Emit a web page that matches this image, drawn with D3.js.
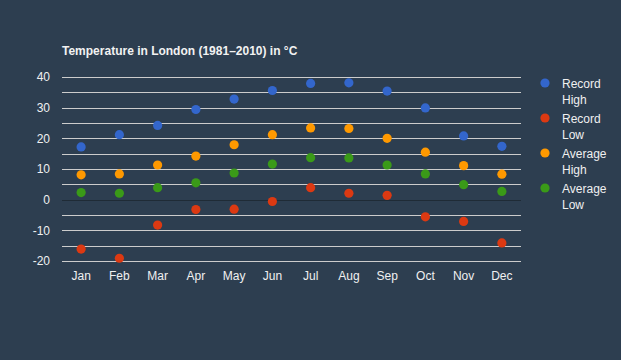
<!DOCTYPE html>
<html>
<head>
<meta charset="utf-8">
<script src="https://cdn.jsdelivr.net/npm/d3@7"></script>
<style>
  body { margin: 0; background: #2d3e50; }
  svg { display: block; font-family: Arial, "Liberation Sans", sans-serif; }
</style>
</head>
<body>
<svg width="621" height="360"></svg>
<script>
const months = ["Jan", "Feb", "Mar", "Apr", "May", "Jun", "Jul", "Aug", "Sep", "Oct", "Nov", "Dec"];
const recordHigh = [17.2, 21.2, 24.2, 29.4, 32.8, 35.6, 37.9, 38.1, 35.4, 29.9, 20.8, 17.4];
const recordLow = [-16.1, -19.1, -8.3, -3.2, -3.1, -0.6, 3.9, 2.1, 1.4, -5.6, -7.1, -14.1];
const averageHigh = [8.1, 8.4, 11.3, 14.2, 17.9, 21.2, 23.4, 23.2, 20.0, 15.5, 11.1, 8.3];
const averageLow = [2.3, 2.1, 3.9, 5.5, 8.7, 11.6, 13.7, 13.6, 11.3, 8.4, 4.9, 2.7];
const seriesNames = [["Record", "High"], ["Record", "Low"], ["Average", "High"], ["Average", "Low"]];
const seriesColors = ["#3366cc", "#dc3912", "#ff9900", "#3a9a18"];
const yTicks = [-20, -10, 0, 10, 20, 30, 40];

const series = [recordHigh, recordLow, averageHigh, averageLow];

const svg = d3.select("svg");
const plotLeft = 62, plotRight = 521, plotTop = 77, plotBottom = 261;

const x = d3.scaleBand().domain(months).range([plotLeft, plotRight]);
const y = d3.scaleLinear().domain([-20, 40]).range([plotBottom, plotTop]);

// title
svg.append("text")
  .attr("x", plotLeft).attr("y", 55)
  .attr("fill", "#f2f2f2")
  .attr("font-size", 12).attr("font-weight", "bold")
  .text("Temperature in London (1981–2010) in °C");

// gridlines every 5 degrees
const grid = svg.append("g");
grid.selectAll("line")
  .data(d3.range(-20, 41, 5))
  .enter().append("line")
  .attr("x1", plotLeft).attr("x2", plotRight)
  .attr("y1", d => Math.round(y(d)) + 0.5)
  .attr("y2", d => Math.round(y(d)) + 0.5)
  .attr("stroke", d => d === 0 ? "#1f2b36" : "#cccccc")
  .attr("stroke-width", 1);

// y axis labels (plain hyphen for negatives, like the original)
const yAxis = svg.append("g")
  .attr("transform", `translate(${plotLeft - 12},0)`)
  .call(d3.axisLeft(y).tickValues(yTicks).tickSize(0).tickPadding(0)
    .tickFormat(d => String(d)));
yAxis.select(".domain").remove();
yAxis.selectAll("text")
  .attr("fill", "#f0f0f0").attr("font-size", 12)
  .attr("font-family", "Arial, 'Liberation Sans', sans-serif");

// x axis labels
const xAxis = svg.append("g")
  .attr("transform", `translate(0,${plotBottom + 8})`)
  .call(d3.axisBottom(x).tickSize(0).tickPadding(0));
xAxis.select(".domain").remove();
xAxis.selectAll("text")
  .attr("fill", "#f0f0f0").attr("font-size", 12)
  .attr("dy", "0.9em")
  .attr("font-family", "Arial, 'Liberation Sans', sans-serif");

// points
series.forEach((vals, i) => {
  svg.append("g").selectAll("circle")
    .data(vals)
    .enter().append("circle")
    .attr("cx", (d, j) => x(months[j]) + x.bandwidth() / 2)
    .attr("cy", d => y(d))
    .attr("r", 4.6)
    .attr("fill", seriesColors[i]);
});

// legend
const legend = svg.append("g");
seriesNames.forEach((name, i) => {
  const ly = 83 + i * 35;
  legend.append("circle")
    .attr("cx", 545).attr("cy", ly).attr("r", 4.6)
    .attr("fill", seriesColors[i]);
  const t = legend.append("text")
    .attr("x", 562).attr("y", ly + 4.5)
    .attr("fill", "#f0f0f0").attr("font-size", 12);
  t.append("tspan").attr("x", 562).text(name[0]);
  t.append("tspan").attr("x", 562).attr("dy", 16).text(name[1]);
});
</script>
</body>
</html>
